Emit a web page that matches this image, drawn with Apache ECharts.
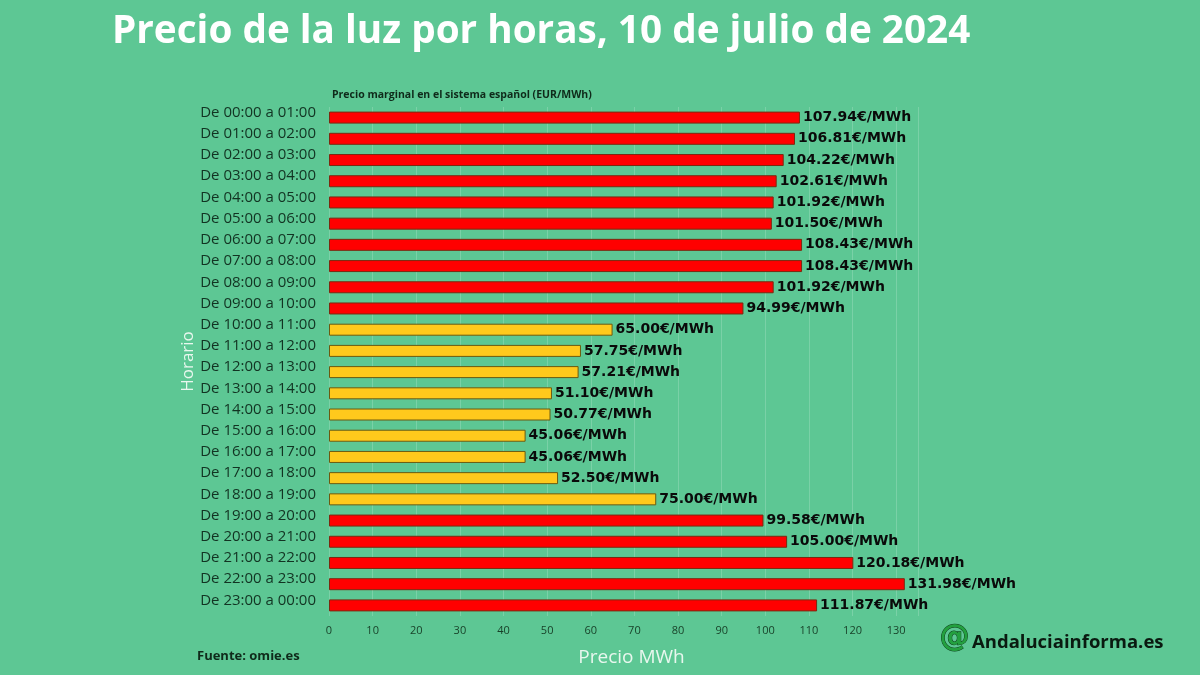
<!DOCTYPE html>
<html><head><meta charset="utf-8">
<script src="https://cdn.jsdelivr.net/npm/echarts@6/dist/echarts.min.js"></script>
<style>html,body{margin:0;padding:0;background:#5dc794;}#c{width:1200px;height:675px;}</style>
</head><body><div id="c"></div>
<script>
const categories = ["De 00:00 a 01:00","De 01:00 a 02:00","De 02:00 a 03:00","De 03:00 a 04:00","De 04:00 a 05:00","De 05:00 a 06:00","De 06:00 a 07:00","De 07:00 a 08:00","De 08:00 a 09:00","De 09:00 a 10:00","De 10:00 a 11:00","De 11:00 a 12:00","De 12:00 a 13:00","De 13:00 a 14:00","De 14:00 a 15:00","De 15:00 a 16:00","De 16:00 a 17:00","De 17:00 a 18:00","De 18:00 a 19:00","De 19:00 a 20:00","De 20:00 a 21:00","De 21:00 a 22:00","De 22:00 a 23:00","De 23:00 a 00:00"];
const prices = [107.94,106.81,104.22,102.61,101.92,101.50,108.43,108.43,101.92,94.99,65.00,57.75,57.21,51.10,50.77,45.06,45.06,52.50,75.00,99.58,105.00,120.18,131.98,111.87];
const cheap = [false,false,false,false,false,false,false,false,false,false,true,true,true,true,true,true,true,true,true,false,false,false,false,false];
const xTicks = [0,10,20,30,40,50,60,70,80,90,100,110,120,130];

const chart = echarts.init(document.getElementById('c'));
chart.setOption({
  backgroundColor: '#5dc794',
  animation: false,
  title: [
    {text: 'Precio de la luz por horas, 10 de julio de 2024', left: 107, top: 7,
     textStyle: {color: '#ffffff', fontSize: 38.7, fontWeight: 'bold', fontFamily: 'Open Sans'}},
    {text: 'Precio marginal en el sistema español (EUR/MWh)', left: 327, top: 85,
     textStyle: {color: '#0f2a1a', fontSize: 10.5, fontWeight: 'bold', fontFamily: 'Open Sans'}},
    {text: 'Fuente: omie.es', left: 192, top: 645,
     textStyle: {color: '#0f2a1a', fontSize: 13, fontWeight: 'bold', fontFamily: 'Open Sans'}},
    {text: 'Andaluciainforma.es', left: 967, top: 628,
     textStyle: {color: '#0a1a10', fontSize: 18.5, fontWeight: 'bold', fontFamily: 'Open Sans'}}
  ],
  graphic: [
    {type: 'text', left: 939, top: 623,
     style: {text: '@', fill: '#23a03f', stroke: '#0b3d18', lineWidth: 1, font: 'bold 30px DejaVu Sans'}}
  ],
  grid: {left: 329, right: 1200 - 918, top: 107, bottom: 675 - 616, containLabel: false},
  xAxis: {
    type: 'value', min: 0, max: 135, interval: 10,
    name: 'Precio MWh', nameLocation: 'middle', nameGap: 32,
    nameTextStyle: {color: '#e8f7ee', fontSize: 19, fontFamily: 'Open Sans', padding: [0, 0, 0, 16]},
    axisLine: {show: false}, axisTick: {show: false},
    axisLabel: {color: '#173f27', fontSize: 11, fontFamily: 'Open Sans', margin: 9, showMaxLabel: false,
      formatter: v => xTicks.includes(v) ? String(v) : ''},
    splitLine: {show: true, lineStyle: {color: 'rgba(255,255,255,0.18)', width: 1}}
  },
  yAxis: {
    type: 'category', data: categories, inverse: true,
    name: 'Horario', nameLocation: 'middle', nameGap: 132, nameRotate: 90,
    nameTextStyle: {color: '#e8f7ee', fontSize: 17, fontFamily: 'Open Sans'},
    axisLine: {show: false}, axisTick: {show: false},
    axisLabel: {color: '#123322', fontSize: 15, fontFamily: 'Open Sans', margin: 13,
      verticalAlign: 'bottom', lineHeight: 10},
    splitLine: {show: false}
  },
  series: [{
    type: 'bar', barWidth: 12,
    data: prices.map((v, i) => ({
      value: v,
      itemStyle: {color: cheap[i] ? '#ffc91c' : '#ff0000', borderColor: cheap[i] ? '#6b5a10' : '#7a2a10', borderWidth: 1}
    })),
    label: {show: true, position: 'right', distance: 3, color: '#0a0a0a', fontSize: 14, fontWeight: 'bold',
      fontFamily: 'DejaVu Sans', formatter: p => p.value.toFixed(2) + '€/MWh'}
  }]
});
</script></body></html>
